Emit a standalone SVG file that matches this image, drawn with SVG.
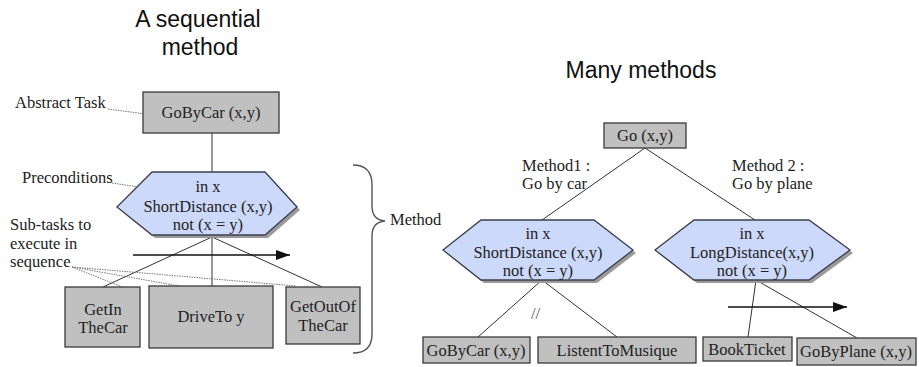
<svg xmlns="http://www.w3.org/2000/svg" width="919" height="367" viewBox="0 0 919 367">
  <defs>
    <marker id="arrowhead" viewBox="0 0 14 10" refX="14" refY="5" markerWidth="14" markerHeight="10" markerUnits="userSpaceOnUse" orient="auto">
      <path d="M0,0 L14,5 L0,10 Z" fill="#111"/>
    </marker>
  </defs>
  <style>
    .title { font-family: "Liberation Sans", Arial, sans-serif; font-size: 23px; fill: #111; }
    .lbl { font-family: "Liberation Serif", "Times New Roman", serif; font-size: 16.5px; fill: #222; }
    .ctr { text-anchor: middle; }
    .task { fill: #c0c0c0; stroke: #3a3a3a; stroke-width: 1.3; }
    .hex { fill: #cdd9fa; stroke: #3c3f4c; stroke-width: 1.3; }
    .shadow { fill: #9a9a9a; }
    .edge { stroke: #333; stroke-width: 1; fill: none; }
    .pointer { stroke: #777; stroke-width: 1; stroke-dasharray: 1.5 1; fill: none; }
    .seq { stroke: #111; stroke-width: 1.3; fill: none; }
    .brace { stroke: #555; stroke-width: 1.4; fill: none; }
  </style>
  <rect width="919" height="367" fill="#fff"/>

  <!-- titles -->
  <text class="title ctr" x="198" y="27">A sequential</text>
  <text class="title ctr" x="200" y="55">method</text>
  <text class="title ctr" x="641" y="78">Many methods</text>

  <!-- connectors -->
  <g id="connectors">
    <!-- sequential method -->
    <line class="edge" x1="212" y1="133" x2="212" y2="172"/>
    <line class="edge" x1="212" y1="237" x2="103" y2="287"/>
    <line class="edge" x1="212" y1="237" x2="212" y2="286"/>
    <line class="edge" x1="212" y1="237" x2="322" y2="287"/>
    <line class="seq" x1="133" y1="255" x2="290" y2="255" marker-end="url(#arrowhead)"/>
    <!-- annotation pointers -->
    <line class="pointer" x1="108" y1="109" x2="160" y2="116"/>
    <line class="pointer" x1="112" y1="183" x2="173" y2="192"/>
    <line class="pointer" x1="72" y1="267" x2="135" y2="292"/>
    <line class="pointer" x1="72" y1="267" x2="213" y2="292"/>
    <line class="pointer" x1="72" y1="267" x2="296" y2="286"/>
    <!-- method brace -->
    <path class="brace" d="M353,165 Q372,165 372,185 L372,206 Q372,220 385,221 Q372,222 372,236 L372,334 Q372,353 353,353"/>
    <!-- many methods -->
    <line class="edge" x1="645" y1="148" x2="542" y2="220"/>
    <line class="edge" x1="645" y1="148" x2="755" y2="220"/>
    <line class="edge" x1="542" y1="280" x2="478" y2="337"/>
    <line class="edge" x1="542" y1="280" x2="617" y2="337"/>
    <line class="edge" x1="756" y1="280" x2="748" y2="337"/>
    <line class="edge" x1="756" y1="280" x2="857" y2="338"/>
    <line class="seq" x1="728" y1="307" x2="847" y2="307" marker-end="url(#arrowhead)"/>
  </g>

  <!-- annotations -->
  <text class="lbl" x="15" y="108">Abstract Task</text>
  <text class="lbl" x="22" y="183">Preconditions</text>
  <text class="lbl" x="10" y="230">Sub-tasks to</text>
  <text class="lbl" x="10" y="249">execute in</text>
  <text class="lbl" x="10" y="267">sequence</text>
  <text class="lbl" x="390" y="225">Method</text>
  <text class="lbl" x="522" y="171">Method1 :</text>
  <text class="lbl" x="522" y="189">Go by car</text>
  <text class="lbl" x="732" y="171">Method 2 :</text>
  <text class="lbl" x="732" y="189">Go by plane</text>
  <text class="lbl" x="531" y="319" fill="#555" style="fill:#555">//</text>

  <!-- sequential method nodes -->
  <g id="gobycar-top">
    <rect class="task" x="143" y="92" width="136" height="41"/>
    <text class="lbl ctr" x="211" y="118">GoByCar (x,y)</text>
  </g>

  <g id="precond-short-1">
    <polygon class="shadow" points="120,210 155,175 268,175 300,210 268,238 155,238"/>
    <polygon class="hex" points="117,207 152,172 265,172 297,207 265,235 152,235"/>
    <text class="lbl ctr" x="208" y="192">in x</text>
    <text class="lbl ctr" x="208" y="212">ShortDistance (x,y)</text>
    <text class="lbl ctr" x="208" y="230">not (x = y)</text>
  </g>

  <g id="getin">
    <rect class="task" x="65" y="287" width="75" height="60"/>
    <text class="lbl ctr" x="103" y="315">GetIn</text>
    <text class="lbl ctr" x="103" y="333">TheCar</text>
  </g>

  <g id="driveto">
    <rect class="task" x="149" y="286" width="124" height="62"/>
    <text class="lbl ctr" x="211" y="322">DriveTo y</text>
  </g>

  <g id="getoutof">
    <rect class="task" x="286" y="287" width="74" height="57"/>
    <text class="lbl ctr" x="323" y="312">GetOutOf</text>
    <text class="lbl ctr" x="323" y="331">TheCar</text>
  </g>

  <!-- many methods nodes -->
  <g id="go">
    <rect class="task" x="604" y="123" width="82" height="25"/>
    <text class="lbl ctr" x="645" y="141">Go (x,y)</text>
  </g>

  <g id="precond-short-2">
    <polygon class="shadow" points="446,253 484,223 597,223 636,253 597,283 484,283"/>
    <polygon class="hex" points="443,250 481,220 594,220 633,250 594,280 481,280"/>
    <text class="lbl ctr" x="538" y="239">in x</text>
    <text class="lbl ctr" x="538" y="258">ShortDistance (x,y)</text>
    <text class="lbl ctr" x="538" y="276">not (x = y)</text>
  </g>

  <g id="precond-long">
    <polygon class="shadow" points="658,253 697,223 812,223 853,253 812,283 697,283"/>
    <polygon class="hex" points="655,250 694,220 809,220 850,250 809,280 694,280"/>
    <text class="lbl ctr" x="752" y="239">in x</text>
    <text class="lbl ctr" x="752" y="258">LongDistance(x,y)</text>
    <text class="lbl ctr" x="752" y="276">not (x = y)</text>
  </g>

  <g id="gobycar-sub">
    <rect class="task" x="423" y="337" width="107" height="26"/>
    <text class="lbl ctr" x="476" y="356">GoByCar (x,y)</text>
  </g>

  <g id="listen">
    <rect class="task" x="538" y="337" width="158" height="26"/>
    <text class="lbl ctr" x="617" y="356">ListentToMusique</text>
  </g>

  <g id="bookticket">
    <rect class="task" x="703" y="337" width="89" height="24"/>
    <text class="lbl ctr" x="747" y="355">BookTicket</text>
  </g>

  <g id="gobyplane">
    <rect class="task" x="797" y="338" width="119" height="27"/>
    <text class="lbl ctr" x="856" y="357">GoByPlane (x,y)</text>
  </g>
</svg>
